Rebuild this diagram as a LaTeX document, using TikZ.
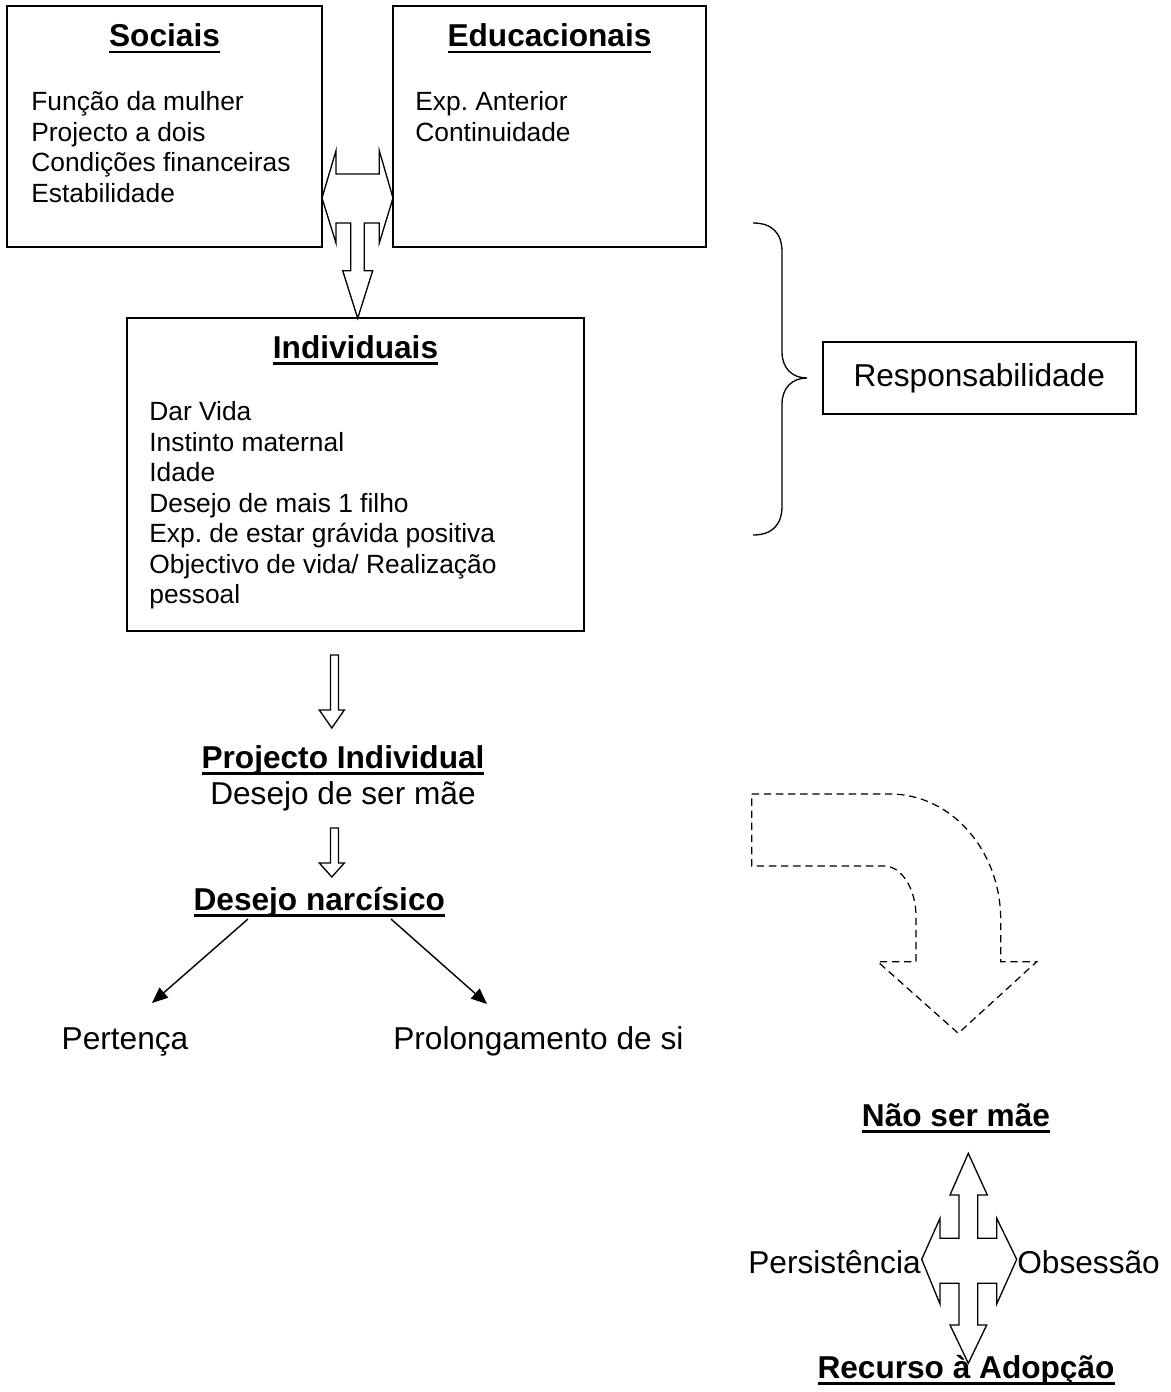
\documentclass[tikz,border=0pt]{standalone}
\usepackage{fontspec}
\setmainfont{Liberation Sans}
\usetikzlibrary{arrows.meta}
\frenchspacing

% bold heading with a thick underline
\newcommand{\ulhead}[1]{\setbox0\hbox{\bfseries #1}\rlap{\rule[-3.7pt]{\wd0}{1.6pt}}\box0}

\begin{document}
\begin{tikzpicture}[x=0.02cm, y=-0.02cm,
  box/.style={draw, line width=1pt, inner sep=0pt},
  big/.style={font=\fontsize{18}{21}\selectfont, inner sep=0pt},
  items/.style={font=\fontsize{15}{17.4}\selectfont, align=left, inner sep=0pt, anchor=north west},
  blockarrow/.style={draw, line width=0.75pt, line join=miter},
  dashedarrow/.style={draw, line width=0.7pt, dash pattern=on 4.2pt off 2.7pt},
  tip/.style={-{Triangle[length=9pt, width=7.5pt]}, line width=0.8pt}]

\useasboundingbox (0,0) rectangle (1170,1392);

% Boxes
\node[box, minimum width=6.30cm, minimum height=4.82cm] (sociais) at (164.5,126.5) {};
\node[box, minimum width=6.26cm, minimum height=4.82cm] (educ) at (549.5,126.5) {};
\node[box, minimum width=9.14cm, minimum height=6.26cm] (indiv) at (355.5,474.5) {};
\node[box, big, minimum width=6.26cm, minimum height=1.44cm] (resp) at (979.2,378.3) {Responsabilidade};

% Box contents
\node[big, anchor=base] (sociaisT) at (164.5,47) {\ulhead{Sociais}};
\node[items] (sociaisL) at (31,91) {Função da mulher\\Projecto a dois\\Condições financeiras\\Estabilidade};
\node[big, anchor=base] (educT) at (549.5,47) {\ulhead{Educacionais}};
\node[items] (educL) at (415,91) {Exp. Anterior\\Continuidade};
\node[big, anchor=base] (indivT) at (355.5,358) {\ulhead{Individuais}};
\node[items] (indivL) at (149,401) {Dar Vida\\Instinto maternal\\Idade\\Desejo de mais 1 filho\\Exp. de estar grávida positiva\\Objectivo de vida/ Realização\\pessoal};

% Block arrow between the two top boxes, going down to Individuais
\draw[blockarrow] (322,198) -- (336,150.7) -- (336,174) -- (379.3,174) -- (379.3,150.7)
  -- (393,198) -- (379.3,243) -- (379.3,223) -- (364.3,223) -- (364.3,270.7)
  -- (372.7,270.7) -- (357.7,318.3) -- (342.7,270.7) -- (350.7,270.7) -- (350.7,223)
  -- (336,223) -- (336,243) -- cycle;

% Brace
\draw[line width=0.75pt] (753,223) .. controls (772,223) and (782,233) .. (782,252) -- (782,352)
  .. controls (782,368) and (792,378) .. (807,378)
  .. controls (792,378) and (782,388) .. (782,404) -- (782,506)
  .. controls (782,525) and (772,535) .. (753,535);

% Down arrows
\draw[blockarrow] (330.5,655) -- (338.5,655) -- (338.5,710) -- (344.3,710) -- (331.8,728)
  -- (319.3,710) -- (330.5,710) -- cycle;
\draw[blockarrow] (330.5,828) -- (338.5,828) -- (338.5,863) -- (344.3,863) -- (331.8,877)
  -- (319.3,863) -- (330.5,863) -- cycle;

% Labels
\node[big, anchor=base] (projT) at (343,768) {\ulhead{Projecto Individual}};
\node[big, anchor=base] (desejo) at (343,804) {Desejo de ser mãe};
\node[big, anchor=base] (narc) at (319.3,910) {\ulhead{Desejo narcísico}};
\node[big, anchor=base] (pert) at (125,1049) {Pertença};
\node[big, anchor=base west] (prol) at (393,1049) {Prolongamento de si};

\draw[tip] ([shift={(-71.3,9)}]narc.base) -- ([shift={(27,-46)}]pert.base);
\draw[tip] ([shift={(71.7,9)}]narc.base) -- ([shift={(94,-45)}]prol.base west);

% Dashed bent arrow
\draw[dashedarrow] (751.7,794) -- (890,794) .. controls (951,794) and (1000.7,850) .. (1000.7,920)
  -- (1000.7,961.7) -- (1036.7,961.7) -- (958.3,1033.3) -- (877.7,961.7) -- (916,961.7)
  -- (916,916.7) .. controls (916,889) and (901.7,866) .. (884,866) -- (751.7,866) -- cycle;

% Bottom right
\node[big, anchor=base] (naoser) at (956,1126) {\ulhead{Não ser mãe}};
\node[big, anchor=base east] (pers) at (921,1273) {Persistência};
\node[big, anchor=base west] (obs) at (1017,1273) {Obsessão};
\node[big, anchor=base] (adop) at (966,1378) {\ulhead{Recurso à Adopção}};

\draw[blockarrow] (968.3,1153.3) -- (987.3,1195) -- (977.7,1195) -- (977.7,1238.3)
  -- (996.7,1238.3) -- (996.7,1218.3) -- (1016.7,1259.3) -- (996.7,1304) -- (996.7,1283.3)
  -- (977.7,1283.3) -- (977.7,1325) -- (986.7,1325) -- (968.3,1363.3) -- (950,1325)
  -- (959,1325) -- (959,1283.3) -- (940,1283.3) -- (940,1304) -- (921.7,1259.3)
  -- (940,1218.3) -- (940,1238.3) -- (959,1238.3) -- (959,1195) -- (950,1195) -- cycle;
\end{tikzpicture}
\end{document}
